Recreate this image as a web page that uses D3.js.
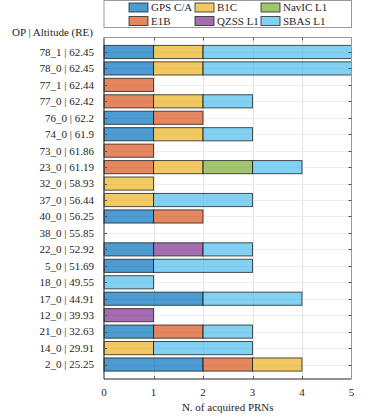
<!DOCTYPE html>
<html>
<head>
<meta charset="utf-8">
<script src="https://cdn.jsdelivr.net/npm/d3@7"></script>
<style>
  body { margin: 0; background: #fff; }
  text { font-family: "Liberation Serif", "Times New Roman", serif; fill: #262626; }
</style>
</head>
<body>
<div id="chart"></div>
<script>
// categories, top to bottom
var categories = ["78_1 | 62.45", "78_0 | 62.45", "77_1 | 62.44", "77_0 | 62.42", "76_0 | 62.2",
  "74_0 | 61.9", "73_0 | 61.86", "23_0 | 61.19", "32_0 | 58.93", "37_0 | 56.44",
  "40_0 | 56.25", "38_0 | 55.85", "22_0 | 52.92", "5_0 | 51.69", "18_0 | 49.55",
  "17_0 | 44.91", "12_0 | 39.93", "21_0 | 32.63", "14_0 | 29.91", "2_0 | 25.25"];

// number of acquired PRNs per signal (stack order)
var gpsCA  = [1, 1, 0, 0, 1, 1, 0, 0, 0, 0, 1, 0, 1, 1, 0, 2, 0, 1, 0, 2];
var e1b    = [0, 0, 1, 1, 1, 0, 1, 1, 0, 0, 1, 0, 0, 0, 0, 0, 0, 1, 0, 1];
var b1c    = [1, 1, 0, 1, 0, 1, 0, 1, 1, 1, 0, 0, 0, 0, 0, 0, 0, 0, 1, 1];
var qzssL1 = [0, 0, 0, 0, 0, 0, 0, 0, 0, 0, 0, 0, 1, 0, 0, 0, 1, 0, 0, 0];
var navicL1= [0, 0, 0, 0, 0, 0, 0, 1, 0, 0, 0, 0, 0, 0, 0, 0, 0, 0, 0, 0];
var sbasL1 = [3, 3, 0, 1, 0, 1, 0, 1, 0, 2, 0, 0, 1, 2, 1, 2, 0, 1, 2, 0];

var seriesNames = ["GPS C/A", "E1B", "B1C", "QZSS L1", "NavIC L1", "SBAS L1"];
var seriesValues = [gpsCA, e1b, b1c, qzssL1, navicL1, sbasL1];
var colors = ["#0072BD", "#D95319", "#EDB120", "#7E2F8E", "#77AC30", "#4DBEEE"];
var xTicks = [0, 1, 2, 3, 4, 5];

// legend layout (column-major like matlab)
var legendOrder = ["GPS C/A", "B1C", "NavIC L1", "E1B", "QZSS L1", "SBAS L1"];

var W = 381, H = 418;
var pLeft = 104, pRight = 351.5, pTop = 37.5, pBottom = 379;
var fs = "11px";

var rows = categories.map(function (c, i) {
  var r = {cat: c};
  seriesNames.forEach(function (s, j) { r[s] = seriesValues[j][i]; });
  return r;
});

var svg = d3.select("#chart").append("svg")
  .attr("width", W)
  .attr("height", H);

var x = d3.scaleLinear().domain([0, 5]).range([pLeft, pRight]);
var y = d3.scaleBand().domain(categories).range([pTop, pBottom])
  .paddingInner(0.2).paddingOuter(0.48);

function cy(d) { return Math.round(y(d) + y.bandwidth() / 2) + 0.5; }

// grid lines
svg.append("g").selectAll("line")
  .data([1, 2, 3, 4])
  .enter().append("line")
    .attr("x1", function (d) { return Math.round(x(d)) + 0.5; })
    .attr("x2", function (d) { return Math.round(x(d)) + 0.5; })
    .attr("y1", pTop).attr("y2", pBottom)
    .attr("stroke", "#e3e3e3");

svg.append("g").selectAll("line")
  .data(categories)
  .enter().append("line")
    .attr("x1", pLeft).attr("x2", pRight)
    .attr("y1", cy)
    .attr("y2", cy)
    .attr("stroke", "#ececec");

// stacked bars
var stacked = d3.stack().keys(seriesNames)(rows);

var layers = svg.append("g").selectAll("g")
  .data(stacked)
  .enter().append("g")
    .attr("fill", function (d, i) { return colors[i]; })
    .attr("fill-opacity", 0.7);

layers.selectAll("rect")
  .data(function (d) { return d.filter(function (p) { return p[1] - p[0] > 0; }); })
  .enter().append("rect")
    .attr("x", function (d) { return x(d[0]); })
    .attr("width", function (d) { return x(d[1]) - x(d[0]); })
    .attr("y", function (d) { return y(d.data.cat); })
    .attr("height", y.bandwidth())
    .attr("stroke", "#1a1a1a")
    .attr("stroke-opacity", 0.75)
    .attr("stroke-width", 1);

// axes box
var axisCol = "#262626";
svg.append("line").attr("x1", pLeft).attr("x2", pLeft).attr("y1", pTop).attr("y2", pBottom)
  .attr("stroke", axisCol);
svg.append("line").attr("x1", pLeft).attr("x2", pRight).attr("y1", pBottom).attr("y2", pBottom)
  .attr("stroke", axisCol);
svg.append("line").attr("x1", pRight).attr("x2", pRight).attr("y1", pTop).attr("y2", pBottom)
  .attr("stroke", "#999");
svg.append("line").attr("x1", pLeft).attr("x2", pRight).attr("y1", pTop).attr("y2", pTop)
  .attr("stroke", "#999");

// y ticks, inward on both sides
categories.forEach(function (c) {
  svg.append("line").attr("x1", pLeft).attr("x2", pLeft + 3).attr("y1", cy(c)).attr("y2", cy(c))
    .attr("stroke", "#555");
  svg.append("line").attr("x1", pRight - 3).attr("x2", pRight).attr("y1", cy(c)).attr("y2", cy(c))
    .attr("stroke", "#555");
});

// x ticks inward top and bottom
[1, 2, 3, 4].forEach(function (t) {
  var cx = Math.round(x(t)) + 0.5;
  svg.append("line").attr("x1", cx).attr("x2", cx).attr("y1", pTop).attr("y2", pTop + 3)
    .attr("stroke", "#555");
  svg.append("line").attr("x1", cx).attr("x2", cx).attr("y1", pBottom - 3).attr("y2", pBottom)
    .attr("stroke", "#555");
});

// y tick labels
svg.append("g").selectAll("text")
  .data(categories)
  .enter().append("text")
    .attr("x", 94)
    .attr("y", function (d) { return y(d) + y.bandwidth() / 2; })
    .attr("dy", "0.35em")
    .attr("text-anchor", "end")
    .style("font-size", fs)
    .text(function (d) { return d; });

// x tick labels
svg.append("g").selectAll("text")
  .data(xTicks)
  .enter().append("text")
    .attr("x", function (d) { return x(d); })
    .attr("y", 392)
    .attr("dy", "0.35em")
    .attr("text-anchor", "middle")
    .style("font-size", fs)
    .text(function (d) { return d; });

// axis titles
svg.append("text")
  .attr("x", (pLeft + pRight) / 2)
  .attr("y", 407)
  .attr("dy", "0.35em")
  .attr("text-anchor", "middle")
  .style("font-size", fs)
  .text("N. of acquired PRNs");

svg.append("text")
  .attr("x", 93)
  .attr("y", 32)
  .attr("dy", "0.35em")
  .attr("text-anchor", "end")
  .style("font-size", fs)
  .text("OP | Altitude (RE)");

// legend
var lg = svg.append("g");
lg.append("rect")
  .attr("x", pLeft).attr("y", 0.5)
  .attr("width", pRight - pLeft).attr("height", 27)
  .attr("fill", "#fff")
  .attr("stroke", "#999");

var colX = [129, 195, 261];
var rowY = [7.5, 21];
legendOrder.forEach(function (name, k) {
  var col = k % 3, row = Math.floor(k / 3);
  var idx = seriesNames.indexOf(name);
  lg.append("rect")
    .attr("x", colX[col]).attr("y", rowY[row] - 4.5)
    .attr("width", 19).attr("height", 9)
    .attr("fill", colors[idx])
    .attr("fill-opacity", 0.7)
    .attr("stroke", "#1a1a1a")
    .attr("stroke-opacity", 0.75);
  lg.append("text")
    .attr("x", colX[col] + 22)
    .attr("y", rowY[row])
    .attr("dy", "0.35em")
    .style("font-size", fs)
    .text(name);
});
</script>
</body>
</html>
